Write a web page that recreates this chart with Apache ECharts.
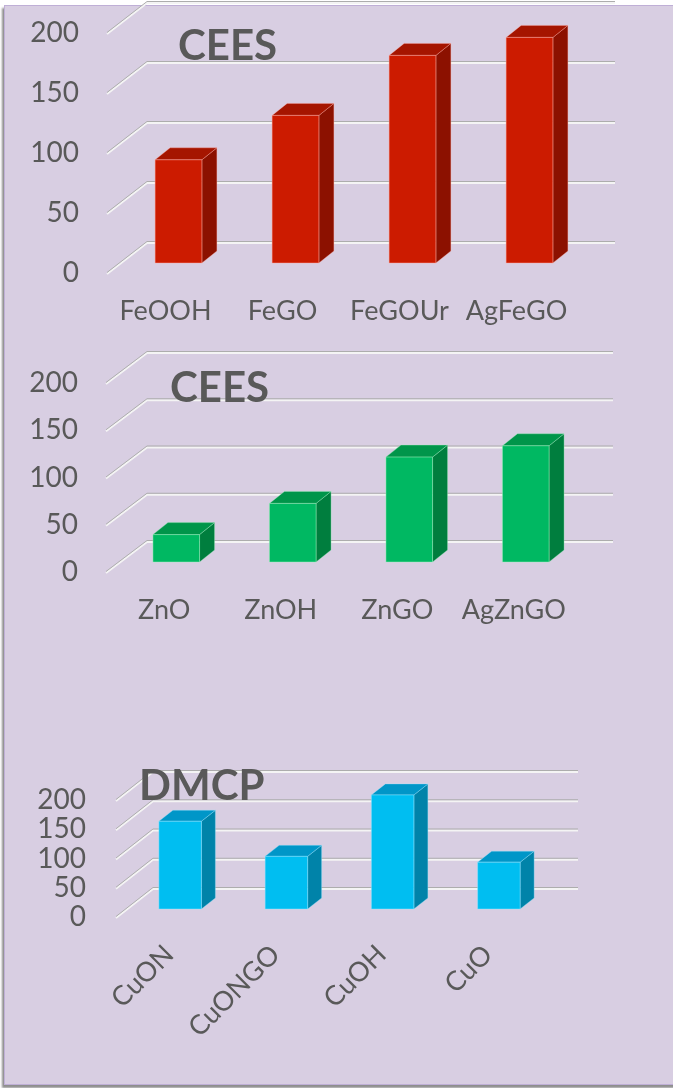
<!DOCTYPE html>
<html lang="en">
<head>
    <meta charset="UTF-8">
    <title>CEES / DMCP</title>
    <style>
        body{
            margin: 0;
            background: #fff;
            overflow: hidden;
        }
        #box{
            position: absolute;
            left: 4px;
            top: 5px;
            width: 700px;
            height: 1078px;
            background: #D8CEE2;
            border: 1px solid #BFAFD6;
            box-shadow: -2px 3px 2px #8E8E8E;
        }
        #main{
            position: absolute;
            left: 0;
            top: 0;
            width: 673px;
            height: 1088px;
        }
    </style>
</head>
<body>
<div id="box"></div>
<div id="main"></div>
<script src="https://cdn.jsdelivr.net/npm/echarts@6/dist/echarts.min.js"></script>
<script>
    // data
    var yTicks = [0, 50, 100, 150, 200];
    var titles = ['CEES', 'CEES', 'DMCP'];

    var feCats = ['FeOOH', 'FeGO', 'FeGOUr', 'AgFeGO'];
    var feVals = [86, 123, 173, 188];

    var znCats = ['ZnO', 'ZnOH', 'ZnGO', 'AgZnGO'];
    var znVals = [29, 62, 111, 123];

    var cuCats = ['CuON', 'CuONGO', 'CuOH', 'CuO'];
    var cuVals = [150, 90, 195, 80];

    var font = 'Lato, "Liberation Sans", sans-serif';
    var textColor = '#595959';

    // one entry per panel: front plane grid, bar / back wall offsets, bar depth, colours
    var panels = [
        {cats: feCats, vals: feVals, grid: {left: 107, top: 33, width: 468, height: 240},
            bar: [13, -10], back: [40, -31], depth: [15, -12], ylMargin: 28, xlMargin: 25, rotate: 0,
            colors: ['#CC1B00', '#A51500', '#8C1100'], edge: 'rgba(255,170,160,0.6)', title: [178, 46]},
        {cats: znCats, vals: znVals, grid: {left: 106, top: 383, width: 466, height: 189},
            bar: [12, -10], back: [41, -31], depth: [15, -12], ylMargin: 28, xlMargin: 25, rotate: 0,
            colors: ['#00B862', '#00954A', '#007E3E'], edge: 'rgba(160,240,190,0.6)', title: [170, 388]},
        {cats: cuCats, vals: cuVals, grid: {left: 116, top: 800, width: 425, height: 117},
            bar: [11, -8], back: [37, -29], depth: [14, -11], ylMargin: 30, xlMargin: 33, rotate: 45,
            colors: ['#00BEF1', '#0096C8', '#0083A9'], edge: 'rgba(150,230,255,0.6)', title: [139, 786]}
    ];

    var mychart = echarts.init(document.getElementById('main'));

    var grids = [], xAxes = [], yAxes = [], series = [], graphics = [];

    panels.forEach(function (p, k) {
        grids.push(p.grid);
        xAxes.push({
            type: 'category', gridIndex: k, data: p.cats,
            axisLine: {show: false}, axisTick: {show: false},
            axisLabel: {color: textColor, fontFamily: font, fontSize: 27, margin: p.xlMargin,
                rotate: p.rotate, interval: 0}
        });
        yAxes.push({
            type: 'value', gridIndex: k, min: 0, max: 200, interval: 50,
            splitLine: {show: false}, axisLine: {show: false}, axisTick: {show: false},
            axisLabel: {color: textColor, fontFamily: font, fontSize: 28, margin: p.ylMargin}
        });

        // back wall lines + the short diagonals on the side wall
        series.push({
            type: 'custom', xAxisIndex: k, yAxisIndex: k, silent: true, z: 1,
            data: yTicks.map(function (v) { return [0, v]; }),
            renderItem: function (params, api) {
                var cs = params.coordSys;
                var y = api.coord([0, api.value(1)])[1];
                var bx = p.back[0], by = p.back[1];
                var pts = [[cs.x, y], [cs.x + bx, y + by], [cs.x + cs.width + bx, y + by]];
                return {
                    type: 'group',
                    children: [
                        {type: 'polyline', shape: {points: pts.map(function (q) { return [q[0], q[1] + 1]; })},
                            style: {stroke: '#F4F4F4', lineWidth: 2, fill: null}},
                        {type: 'polyline', shape: {points: pts.map(function (q) { return [q[0], q[1] - 0.5]; })},
                            style: {stroke: '#ADADAD', lineWidth: 1, fill: null}}
                    ]
                };
            }
        });

        // 3d looking bars
        series.push({
            type: 'custom', xAxisIndex: k, yAxisIndex: k, z: 2,
            data: p.vals.map(function (v, i) { return [i, v]; }),
            renderItem: function (params, api) {
                var c0 = api.coord([api.value(0), 0]);
                var c1 = api.coord([api.value(0), api.value(1)]);
                var bw = api.size([1, 0])[0] * 0.4;
                var x0 = c0[0] - bw / 2 + p.bar[0], x1 = x0 + bw;
                var yb = c0[1] + p.bar[1], yt = c1[1] + p.bar[1];
                var dx = p.depth[0], dy = p.depth[1];
                return {
                    type: 'group',
                    children: [
                        {type: 'polygon', shape: {points: [[x1, yt], [x1 + dx, yt + dy], [x1 + dx, yb + dy], [x1, yb]]},
                            style: {fill: p.colors[2], stroke: p.edge, lineWidth: 0.6}},
                        {type: 'polygon', shape: {points: [[x0, yt], [x0 + dx, yt + dy], [x1 + dx, yt + dy], [x1, yt]]},
                            style: {fill: p.colors[1], stroke: p.edge, lineWidth: 0.6}},
                        {type: 'rect', shape: {x: x0, y: yt, width: bw, height: yb - yt},
                            style: {fill: p.colors[0], stroke: p.edge, lineWidth: 0.8}}
                    ]
                };
            }
        });

        graphics.push({
            type: 'text', x: p.title[0], y: p.title[1], z: 10,
            style: {text: titles[k], fill: textColor, font: 'bold 42px ' + font,
                textAlign: 'left', verticalAlign: 'middle'}
        });
    });

    var option = {
        animation: false,
        grid: grids,
        xAxis: xAxes,
        yAxis: yAxes,
        series: series,
        graphic: graphics
    };
    mychart.setOption(option);
</script>
</body>
</html>
